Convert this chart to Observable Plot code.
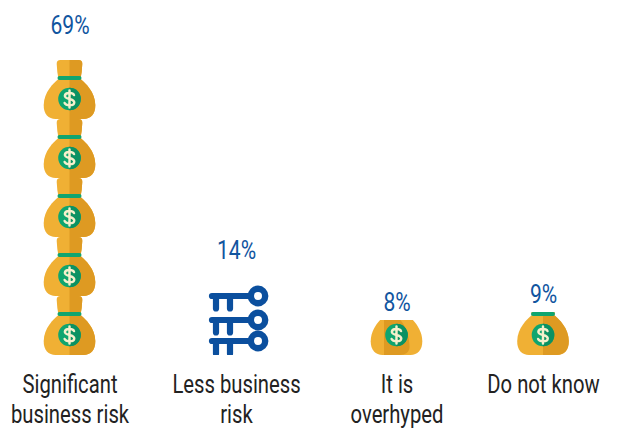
<!DOCTYPE html>
<html>
<head>
<meta charset="utf-8">
<script src="https://cdn.jsdelivr.net/npm/d3@7"></script>
<script src="https://cdn.jsdelivr.net/npm/@observablehq/plot@0.6"></script>
<style>
  html, body { margin: 0; padding: 0; background: #fff; }
</style>
</head>
<body>
<div id="chart"></div>
<script>
const categories = ["Significant\nbusiness risk", "Less business\nrisk", "It is\noverhyped", "Do not know"];
const values = [69, 14, 8, 9];
const icons = ["bag", "keys", "bagPatched", "bag"];

const FONT = "Roboto, sans-serif";
const BLUE = "#11559f";
const GOLD = "#f0b034";
const GOLD_DARK = "#de9a22";
const GREEN = "#0fa56f";
const GREEN_DARK = "#0b9162";
const CREAM = "#f5f0cc";
const KEY_BLUE = "#0b4f9e";
const BAG_PITCH = 59;
const NARROW = 0.81;

// Money bag, drawn upward from its base at (0, 0).
function bagMarkup(patched) {
  const neck = "M-9,-59 H9 Q13,-59 12.8,-55 Q12.5,-47 11,-40 H-11 Q-12.5,-47 -12.8,-55 Q-13,-59 -9,-59 Z";
  const body = "M-11,-40 C-16,-36 -25.5,-27 -25.8,-14 C-26,-5 -21,0 -14,0 H14 C21,0 26,-5 25.8,-14 C25.5,-27 16,-36 11,-40 Z";
  const shade = patched
    ? "M-12.5,-36 H3 C10,-29 13,-16 13,-8 C13,-3 9,0 3,0 H-12.5 Z"
    : "M0,-40 H11 C16,-36 25.5,-27 25.8,-14 C26,-5 21,0 14,0 H0 Z";
  const neckShade = "M0,-59 H9 Q13,-59 12.8,-55 Q12.5,-47 11,-40 H0 Z";
  return `
    <path d="${neck}" fill="${GOLD}"/>
    <path d="${neckShade}" fill="${GOLD_DARK}"/>
    <path d="${body}" fill="${GOLD}"/>
    <path d="${shade}" fill="${GOLD_DARK}"/>
    <rect x="-12" y="-43" width="24" height="4" rx="2" fill="${GREEN}"/>
    <circle cy="-20" r="11.3" fill="${GREEN}"/>
    <path d="M0,-31.3 A11.3,11.3 0 0 1 0,-8.7 Z" fill="${GREEN_DARK}"/>
    <path transform="translate(0,-20) scale(1.22) translate(0,20)"
      d="M3.7,-23.2 C2.8,-25.4 -3.6,-25.6 -3.8,-22.6 C-4,-19.4 4,-20.6 3.9,-17.2 C3.8,-14.2 -2.9,-14.4 -4,-16.8 M0,-27 V-13"
      fill="none" stroke="${CREAM}" stroke-width="2" stroke-linecap="round"/>`;
}

// Single key with its head to the right, teeth pointing down.
function keyMarkup(headY) {
  return `
    <path d="M-24,${headY} H16" stroke="${KEY_BLUE}" stroke-width="6.2" stroke-linecap="round" fill="none"/>
    <path d="M-20,${headY} V${headY + 12.5} M-6,${headY} V${headY + 12.5}" stroke="${KEY_BLUE}" stroke-width="6.2" stroke-linecap="round" fill="none"/>
    <circle cx="22" cy="${headY}" r="7.2" fill="#fff" stroke="${KEY_BLUE}" stroke-width="6.4"/>`;
}

// Replaces each rule with a pile of icons cut off at the rule's upper end.
function pictogram(index, scales, channels) {
  const {x: X, y1: Y1, y2: Y2} = channels;
  const g = d3.create("svg:g");
  for (const i of index) {
    const height = Y1[i] - Y2[i];
    const clipId = `icon-clip-${i}`;
    g.append("clipPath").attr("id", clipId)
      .append("rect")
      .attr("x", X[i] - 40).attr("y", Y2[i])
      .attr("width", 80).attr("height", height);
    const group = g.append("g").attr("clip-path", `url(#${clipId})`);
    if (icons[i] === "keys") {
      group.append("g")
        .attr("transform", `translate(${X[i]},${Y1[i]})`)
        .html(keyMarkup(-59) + keyMarkup(-35) + keyMarkup(-14));
    } else {
      const count = Math.ceil(height / BAG_PITCH);
      for (let k = 0; k < count; ++k) {
        group.append("g")
          .attr("transform", `translate(${X[i]},${Y1[i] - k * BAG_PITCH})`)
          .html(bagMarkup(icons[i] === "bagPatched"));
      }
    }
  }
  return g.node();
}

// Condenses the text horizontally around each anchor point.
function condensed(index, scales, channels, dimensions, context, next) {
  const g = next(index, scales, channels, dimensions, context);
  d3.select(g).selectAll("text").attr("transform", function () {
    return `${this.getAttribute("transform")} scale(${NARROW},1)`;
  });
  return g;
}

const percentLabel = {
  x: (d, i) => i,
  y: d => d,
  text: d => `${d}%`,
  fontSize: 26,
  fontFamily: FONT,
  fill: BLUE,
  render: condensed
};

const chart = Plot.plot({
  width: 621,
  height: 439,
  style: {background: "#fff", fontFamily: FONT},
  x: {type: "linear", domain: [0, 1, 2, 3], range: [69.5, 236, 396.5, 543], axis: null},
  y: {type: "linear", domain: [0, 8, 9, 14, 69], range: [355, 320, 312, 285, 60], axis: null},
  marks: [
    Plot.ruleX(values, {
      x: (d, i) => i,
      y1: () => 0,
      y2: d => d,
      render: pictogram
    }),
    Plot.text(values, {...percentLabel, filter: d => d >= 14, dy: -35}),
    Plot.text(values, {...percentLabel, filter: d => d < 14, dy: -18}),
    Plot.text(categories, {
      x: (d, i) => i,
      y: () => 0,
      text: d => d,
      dy: 16,
      lineAnchor: "top",
      lineHeight: 1.2,
      fontSize: 25,
      fontFamily: FONT,
      fill: "#222",
      render: condensed
    })
  ]
});

document.getElementById("chart").append(chart);
</script>
</body>
</html>
